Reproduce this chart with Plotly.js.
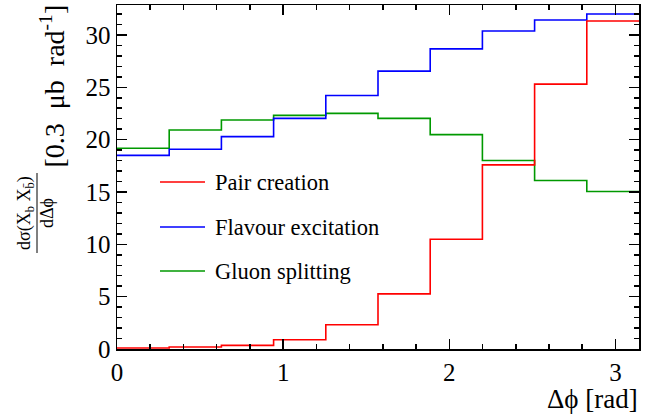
<!DOCTYPE html>
<html>
<head>
<meta charset="utf-8">
<script src="https://cdn.plot.ly/plotly-3.0.1.min.js"></script>
<style>html,body{margin:0;padding:0;background:#fff;}#chart{width:650px;height:415px;}</style>
</head>
<body>
<div id="chart"></div>
<script>
// Binning: 10 bins over [0, pi]
const nBins = 10;
const xMax = Math.PI;

// Series values (per bin)
const pairCreation = [0.10, 0.19, 0.35, 0.89, 2.32, 5.27, 10.48, 17.59, 25.30, 31.33];
const flavourExcitation = [18.50, 19.08, 20.29, 22.03, 24.22, 26.54, 28.67, 30.38, 31.43, 32.00];
const gluonSplitting = [19.17, 20.92, 21.87, 22.32, 22.51, 22.03, 20.48, 18.00, 16.10, 15.05];

const seriesNames = ["Pair creation", "Flavour excitation", "Gluon splitting"];
const xTickVals = [0, 1, 2, 3];
const yTickVals = [0, 5, 10, 15, 20, 25, 30];

const colors = ["#ff0000", "#0000ff", "#009900"];
const edges = [];
for (let i = 0; i <= nBins; i++) edges.push(i * xMax / nBins);

function stepTrace(vals, name, color) {
  return {
    type: 'scatter', mode: 'lines', name: name,
    x: edges, y: vals.concat([vals[vals.length - 1]]),
    line: {shape: 'hv', color: color, width: 1.6},
    showlegend: false, hoverinfo: 'skip'
  };
}

const data = [
  stepTrace(gluonSplitting, seriesNames[2], colors[2]),
  stepTrace(flavourExcitation, seriesNames[1], colors[1]),
  stepTrace(pairCreation, seriesNames[0], colors[0])
];

const font = "Liberation Serif";

// plot area in pixels: x 117..639, y 5..349
const L = 117, R = 639, T = 5, B = 349;
const px = x => (x - L) / (R - L);
const py = y => (B - y) / (B - T);

// Manual legend (ROOT style)
const legY = [182, 227, 271];
const shapes = [];
const annotations = [];
for (let i = 0; i < 3; i++) {
  shapes.push({type: 'line', xref: 'paper', yref: 'paper', x0: px(160), x1: px(205), y0: py(legY[i]), y1: py(legY[i]),
    line: {color: colors[i], width: 1.6}});
  annotations.push({xref: 'paper', yref: 'paper', x: px(213), y: py(legY[i]), xanchor: 'left', yanchor: 'middle',
    text: seriesNames[i], showarrow: false, font: {family: font, size: 22.5, color: '#000'}});
}

// Y axis title pieces
const nb = '\u00a0';
annotations.push({xref: 'paper', yref: 'paper', x: px(53), y: py(3), xanchor: 'center', yanchor: 'top',
  textangle: -90, showarrow: false, text: '[0.3' + nb + nb + 'μb' + nb + nb + 'rad<sup>-1</sup>]', font: {family: font, size: 28, color: '#000'}});
annotations.push({xref: 'paper', yref: 'paper', x: px(25), y: py(213), xanchor: 'center', yanchor: 'middle',
  textangle: -90, showarrow: false, text: 'dσ(X<sub>b</sub>' + nb + 'X<sub>b̄</sub>)', font: {family: font, size: 18, color: '#000'}});
annotations.push({xref: 'paper', yref: 'paper', x: px(47), y: py(213), xanchor: 'center', yanchor: 'middle',
  textangle: -90, showarrow: false, text: 'dΔϕ', font: {family: font, size: 18, color: '#000'}});
shapes.push({type: 'line', xref: 'paper', yref: 'paper', x0: px(37), x1: px(37), y0: py(173), y1: py(253),
  line: {color: '#000', width: 1}});

// X axis title
annotations.push({xref: 'paper', yref: 'paper', x: px(640), y: py(399), xanchor: 'right', yanchor: 'middle',
  showarrow: false, text: 'Δϕ [rad]', font: {family: font, size: 27, color: '#000'}});

const layout = {
  width: 650, height: 415,
  margin: {l: L, r: 650 - R, t: T, b: 415 - B},
  paper_bgcolor: '#fff', plot_bgcolor: '#fff',
  showlegend: false,
  font: {family: font, color: '#000'},
  xaxis: {
    range: [0, xMax], tickvals: xTickVals, ticktext: xTickVals.map(String),
    ticks: 'inside', ticklen: 10, tickwidth: 1.5, tickcolor: '#000',
    minor: {dtick: 0.2, ticks: 'inside', ticklen: 5, tickwidth: 1.5, tickcolor: '#000', showgrid: false},
    showline: true, linecolor: '#000', linewidth: 1.5, mirror: 'allticks',
    showgrid: false, zeroline: false,
    tickfont: {family: font, size: 25, color: '#000'}
  },
  yaxis: {
    range: [0, 32.86], tickvals: yTickVals, ticktext: yTickVals.map(String),
    ticks: 'inside', ticklen: 10, tickwidth: 1.5, tickcolor: '#000',
    minor: {dtick: 1, ticks: 'inside', ticklen: 5, tickwidth: 1.5, tickcolor: '#000', showgrid: false},
    showline: true, linecolor: '#000', linewidth: 1.5, mirror: 'allticks',
    showgrid: false, zeroline: false,
    tickfont: {family: font, size: 25, color: '#000'}
  },
  shapes: shapes,
  annotations: annotations
};

Plotly.newPlot('chart', data, layout, {displayModeBar: false, staticPlot: true});
</script>
</body>
</html>
